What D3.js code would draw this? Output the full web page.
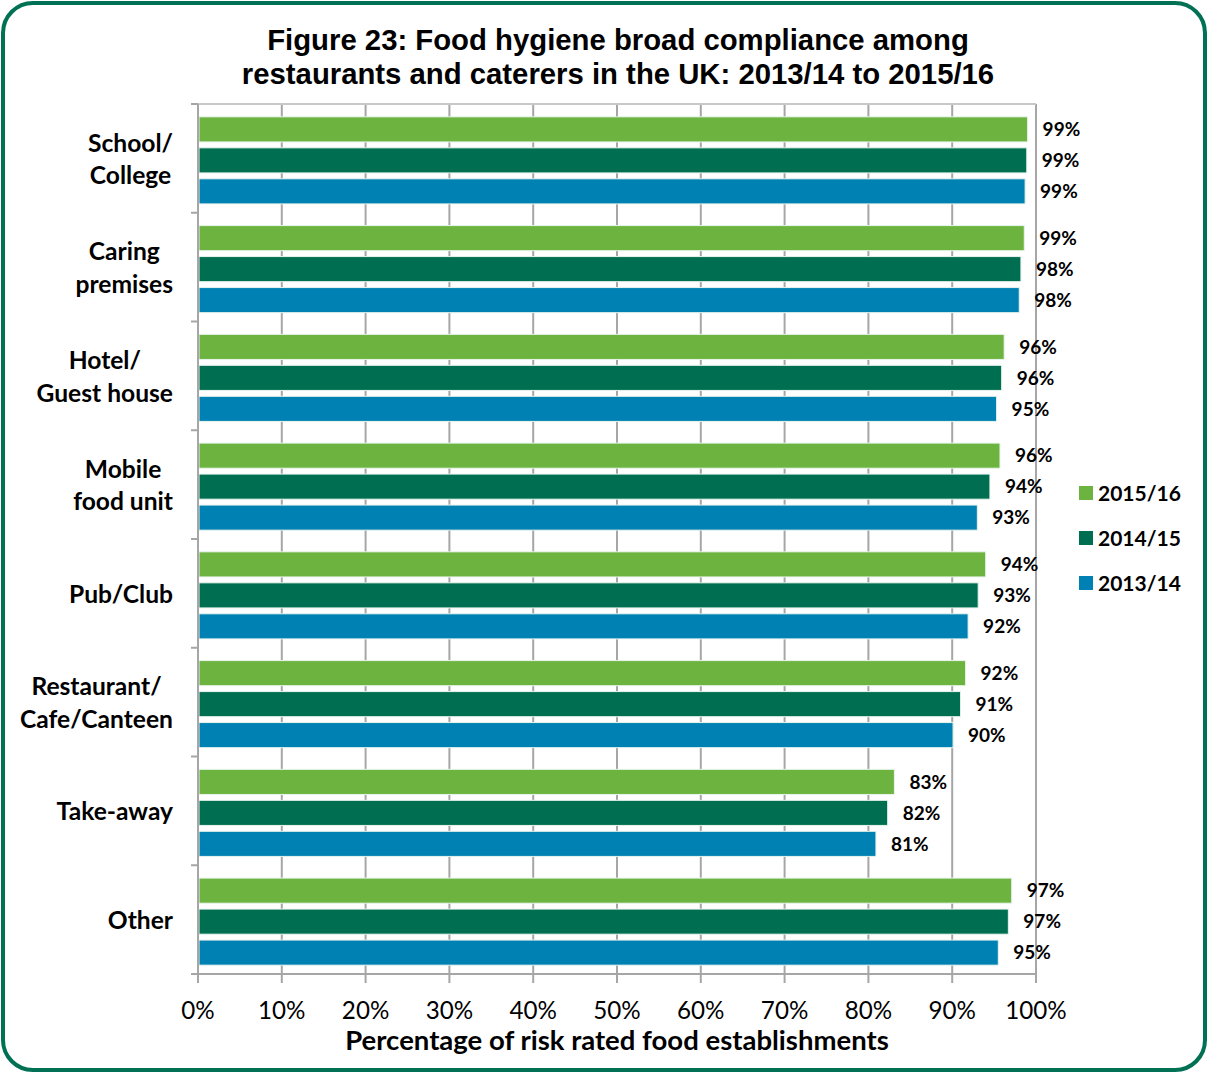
<!DOCTYPE html>
<html>
<head>
<meta charset="utf-8">
<script src="https://cdn.jsdelivr.net/npm/d3@7"></script>
<style>
  body { margin: 0; background: #fff; }
  svg { display: block; }
  .title { font-family: "Liberation Sans", Arial, sans-serif; font-weight: bold; font-size: 29.3px; fill: #000; }
  .cat { font-family: Lato, "Open Sans", sans-serif; font-weight: bold; font-size: 24.6px; fill: #000; }
  .val { font-family: Lato, "Open Sans", sans-serif; font-weight: bold; font-size: 19px; fill: #000; }
  .tick-label { font-family: Lato, "Open Sans", sans-serif; font-size: 24.2px; fill: #000; }
  .axis-label { font-family: Lato, "Open Sans", sans-serif; font-weight: bold; font-size: 27.5px; fill: #000; }
  .legend-text { font-family: Lato, "Open Sans", sans-serif; font-weight: bold; font-size: 21px; fill: #000; }
</style>
</head>
<body>
<svg id="chart"></svg>
<script>
const categories = [
  ['School/', 'College'],
  ['Caring', 'premises'],
  ['Hotel/', 'Guest house'],
  ['Mobile', 'food unit'],
  ['Pub/Club'],
  ['Restaurant/', 'Cafe/Canteen'],
  ['Take-away'],
  ['Other']
];
const series = ['2015/16', '2014/15', '2013/14'];
const values2015 = [99.0, 98.6, 96.2, 95.7, 94.0, 91.6, 83.1, 97.1];
const values2014 = [98.9, 98.2, 95.9, 94.5, 93.1, 91.0, 82.3, 96.7];
const values2013 = [98.7, 98.0, 95.3, 93.0, 91.9, 90.1, 80.9, 95.5];
const labels2015 = ['99%', '99%', '96%', '96%', '94%', '92%', '83%', '97%'];
const labels2014 = ['99%', '98%', '96%', '94%', '93%', '91%', '82%', '97%'];
const labels2013 = ['99%', '98%', '95%', '93%', '92%', '90%', '81%', '95%'];
const xTicks = [0, 10, 20, 30, 40, 50, 60, 70, 80, 90, 100];

const colors = ['#6db33f', '#006f51', '#0081b4'];

const width = 1208, height = 1073;
const margin = { top: 104, left: 198, right: 172, bottom: 99 };
const plotW = width - margin.left - margin.right;
const plotH = height - margin.top - margin.bottom;

const svg = d3.select('#chart')
  .attr('width', width)
  .attr('height', height);

// frame
svg.append('rect')
  .attr('x', 3).attr('y', 3)
  .attr('width', width - 6).attr('height', height - 6)
  .attr('rx', 30).attr('ry', 30)
  .attr('fill', '#fff')
  .attr('stroke', '#007155')
  .attr('stroke-width', 4);

// title
const title = svg.append('text')
  .attr('class', 'title')
  .attr('text-anchor', 'middle')
  .attr('x', 618);
title.append('tspan').attr('x', 618).attr('y', 50).text('Figure 23: Food hygiene broad compliance among');
title.append('tspan').attr('x', 618).attr('y', 84).text('restaurants and caterers in the UK: 2013/14 to 2015/16');

const chart = svg.append('g')
  .attr('transform', `translate(${margin.left},${margin.top})`);

const xScale = d3.scaleLinear()
  .domain([0, 100])
  .range([0, plotW]);

const yScale = d3.scaleBand()
  .domain(d3.range(categories.length))
  .range([0, plotH])
  .padding(0);

// bars sit slightly below the middle of each band
const sScale = d3.scaleBand()
  .domain(series)
  .range([2, yScale.bandwidth() + 2])
  .paddingInner(0.19)
  .paddingOuter(0.35);

// gridlines
chart.append('g')
  .selectAll('line')
  .data(xTicks)
  .join('line')
  .attr('x1', d => xScale(d)).attr('x2', d => xScale(d))
  .attr('y1', 0).attr('y2', plotH + 9)
  .attr('stroke', '#a6a6a6')
  .attr('stroke-width', 2);

// top border of plot area
chart.append('line')
  .attr('x1', -6).attr('x2', plotW)
  .attr('y1', 0).attr('y2', 0)
  .attr('stroke', '#c8c8c8')
  .attr('stroke-width', 2);

// bars
const data = [];
categories.forEach((c, i) => {
  data.push({ i, s: series[0], v: values2015[i], label: labels2015[i] });
  data.push({ i, s: series[1], v: values2014[i], label: labels2014[i] });
  data.push({ i, s: series[2], v: values2013[i], label: labels2013[i] });
});

const colorScale = d3.scaleOrdinal().domain(series).range(colors);

chart.append('g')
  .selectAll('rect')
  .data(data)
  .join('rect')
  .attr('x', xScale(0) + 1)
  .attr('y', d => yScale(d.i) + sScale(d.s))
  .attr('width', d => xScale(d.v) - xScale(0) - 1)
  .attr('height', sScale.bandwidth())
  .attr('fill', d => colorScale(d.s))
  .attr('stroke', '#e8f4ec')
  .attr('stroke-width', 1);

chart.append('g')
  .selectAll('text')
  .data(data)
  .join('text')
  .attr('class', 'val')
  .attr('x', d => xScale(d.v) + 15)
  .attr('y', d => yScale(d.i) + sScale(d.s) + sScale.bandwidth() / 2)
  .attr('dy', '0.35em')
  .text(d => d.label);

// y axis
const yAxisG = chart.append('g');
yAxisG.append('line')
  .attr('x1', 0).attr('x2', 0)
  .attr('y1', 0).attr('y2', plotH)
  .attr('stroke', '#a6a6a6')
  .attr('stroke-width', 2);
yAxisG.selectAll('.ytick')
  .data(d3.range(categories.length + 1))
  .join('line')
  .attr('class', 'ytick')
  .attr('x1', -7).attr('x2', 0)
  .attr('y1', d => d * yScale.step()).attr('y2', d => d * yScale.step())
  .attr('stroke', '#a6a6a6')
  .attr('stroke-width', 2);

// category labels: lines centred within a block whose right edge is fixed
const labelRight = -25;
chart.append('g')
  .selectAll('text')
  .data(categories)
  .join('text')
  .attr('class', 'cat')
  .attr('text-anchor', 'middle')
  .each(function (lines, i) {
    const el = d3.select(this);
    const cy = yScale(i) + yScale.bandwidth() / 2 + 1;
    const n = lines.length;
    const spans = el.selectAll('tspan')
      .data(lines)
      .join('tspan')
      .attr('x', 0)
      .attr('y', (d, j) => cy + (j - (n - 1) / 2) * 32.5)
      .attr('dy', '0.35em')
      .text(d => d);
    let maxW = 0;
    spans.each(function () { maxW = Math.max(maxW, this.getComputedTextLength()); });
    spans.attr('x', labelRight - maxW / 2);
  });

// x axis
const xAxisG = chart.append('g');
xAxisG.append('line')
  .attr('x1', -7).attr('x2', plotW)
  .attr('y1', plotH).attr('y2', plotH)
  .attr('stroke', '#a6a6a6')
  .attr('stroke-width', 2);
xAxisG.selectAll('text')
  .data(xTicks)
  .join('text')
  .attr('class', 'tick-label')
  .attr('text-anchor', 'middle')
  .attr('x', d => xScale(d))
  .attr('y', plotH + 45)
  .text(d => d + '%');

xAxisG.append('text')
  .attr('class', 'axis-label')
  .attr('text-anchor', 'middle')
  .attr('x', 419)
  .attr('y', plotH + 76)
  .text('Percentage of risk rated food establishments');

// legend
const legend = svg.append('g')
  .attr('transform', 'translate(1079, 493)');
const legendItem = legend.selectAll('g')
  .data(series)
  .join('g')
  .attr('transform', (d, i) => `translate(0, ${i * 45})`);
legendItem.append('rect')
  .attr('x', 0).attr('y', -7)
  .attr('width', 14).attr('height', 14)
  .attr('fill', d => colorScale(d));
legendItem.append('text')
  .attr('class', 'legend-text')
  .attr('x', 19)
  .attr('dy', '0.36em')
  .text(d => d);
</script>
</body>
</html>
